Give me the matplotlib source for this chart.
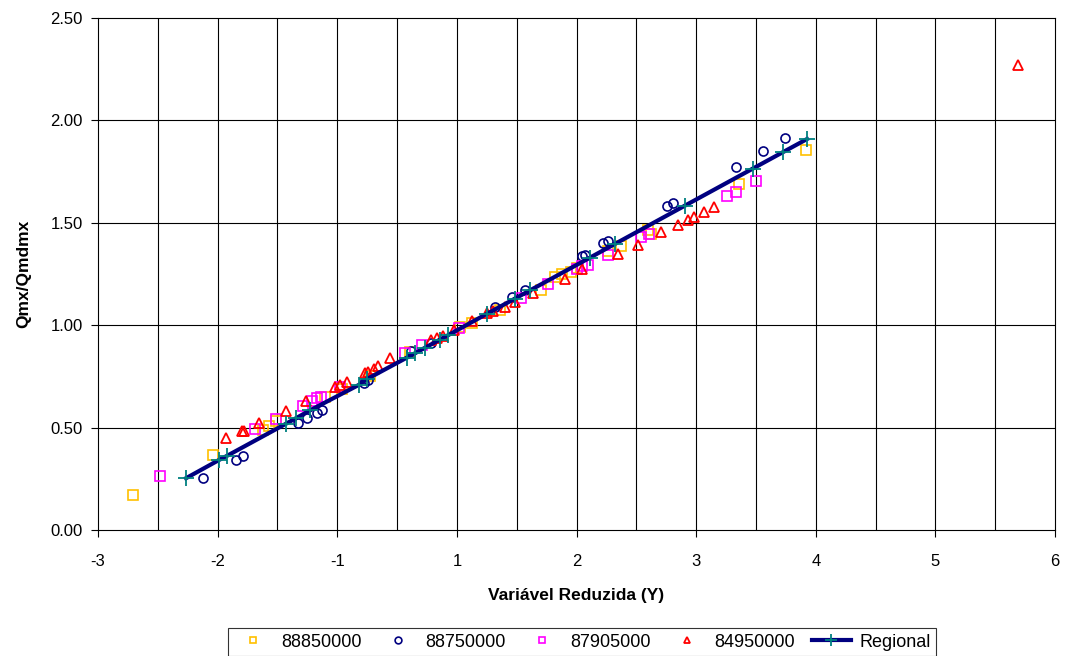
import matplotlib
matplotlib.use("Agg")
import matplotlib.pyplot as plt
import numpy as np

plt.rcParams['font.family'] = ['Liberation Sans', 'DejaVu Sans']

# ---------------- data ----------------
s88850_x = [-2.21, -1.54, -1.12, -1.07, -1.01, -0.60, -0.46, -0.23, 0.11, 0.53, 0.63, 0.86,
            1.20, 1.32, 1.38, 1.45, 1.50, 1.76, 1.87, 2.10, 2.12, 2.86, 3.42]
s88850_y = [0.17, 0.367, 0.489, 0.509, 0.533, 0.651, 0.690, 0.753, 0.871, 0.993, 1.013, 1.076,
            1.174, 1.233, 1.248, 1.262, 1.277, 1.360, 1.389, 1.467, 1.443, 1.688, 1.854]

s88750_x = [-1.62, -1.35, -1.29, -0.83, -0.75, -0.67, -0.63, -0.28, -0.24, 0.12, 0.28, 0.82,
            0.96, 1.07, 1.55, 1.57, 1.72, 1.76, 2.26, 2.31, 2.83, 3.06, 3.24]
s88750_y = [0.254, 0.342, 0.362, 0.523, 0.548, 0.572, 0.587, 0.719, 0.734, 0.876, 0.915, 1.091,
            1.140, 1.174, 1.336, 1.345, 1.399, 1.409, 1.580, 1.595, 1.771, 1.849, 1.913]

s87905_x = [-1.98, -1.19, -1.01, -0.79, -0.71, -0.67, -0.64, -0.48, 0.07, 0.21, 0.52, 1.04,
            1.26, 1.50, 1.55, 1.60, 1.76, 2.04, 2.11, 2.76, 2.83, 3.00]
s87905_y = [0.264, 0.494, 0.543, 0.607, 0.631, 0.646, 0.651, 0.700, 0.866, 0.905, 0.988, 1.135,
            1.199, 1.272, 1.287, 1.296, 1.345, 1.429, 1.443, 1.629, 1.649, 1.703]

s84950_x = [-1.43, -1.30, -1.28, -1.15, -0.93, -0.76, -0.52, -0.48, -0.42, -0.27, -0.24, -0.19,
            -0.16, -0.06, 0.28, 0.33, 0.38, 0.48, 0.63, 0.75, 0.80, 0.90, 0.99, 1.14, 1.40,
            1.55, 1.85, 2.01, 2.21, 2.35, 2.43, 2.48, 2.57, 2.65, 5.19]
s84950_y = [0.450, 0.484, 0.484, 0.523, 0.582, 0.631, 0.700, 0.709, 0.724, 0.768, 0.773, 0.788,
            0.802, 0.841, 0.930, 0.939, 0.949, 0.978, 1.022, 1.062, 1.067, 1.091, 1.111, 1.159, 1.228,
            1.272, 1.350, 1.394, 1.453, 1.487, 1.512, 1.526, 1.551, 1.575, 2.27]

regional_x = [-1.764, -1.488, -1.422, -0.928, -0.845, -0.728, -0.318, -0.251, 0.083, 0.150, 0.234,
              0.359, 0.426, 0.752, 0.986, 1.111, 1.613, 1.822, 2.407, 2.975, 3.226, 3.427]
regional_y = [0.253, 0.342, 0.362, 0.519, 0.546, 0.584, 0.709, 0.737, 0.842, 0.863, 0.890,
              0.930, 0.951, 1.056, 1.130, 1.170, 1.330, 1.397, 1.584, 1.765, 1.845, 1.909]

x_ticks = [-2.5, -1.5, -0.5, 0.5, 1.5, 2.5, 3.5, 4.5, 5.5]
x_tick_labels = ['-3', '-2', '-1', '1', '2', '3', '4', '5', '6']
y_ticks = [0.0, 0.5, 1.0, 1.5, 2.0, 2.5]

# ---------------- figure ----------------
fig = plt.figure(figsize=(10.66, 6.56), dpi=100)
ax = fig.add_axes([98/1066, 126/656, (1055-98)/1066, (530-18)/656])

ax.set_xlim(-2.5, 5.5)
ax.set_ylim(0, 2.5)

for gx in np.arange(-2.0, 5.5, 0.5):
    ax.axvline(gx, color='black', lw=0.8, zorder=0)
for gy in y_ticks[1:-1]:
    ax.axhline(gy, color='black', lw=0.8, zorder=0)

ms = 6.5
ax.plot(s88850_x, s88850_y, ls='none', marker='s', ms=ms, mfc='none', mec='#FFC000', mew=1.2,
        label='88850000', zorder=3)
ax.plot(s88750_x, s88750_y, ls='none', marker='o', ms=ms, mfc='none', mec='#000080', mew=1.2,
        label='88750000', zorder=3)
ax.plot(s87905_x, s87905_y, ls='none', marker='s', ms=ms, mfc='none', mec='#FF00FF', mew=1.2,
        label='87905000', zorder=3)
ax.plot(s84950_x, s84950_y, ls='none', marker='^', ms=ms, mfc='none', mec='#FF0000', mew=1.3,
        label='84950000', zorder=3)
ax.plot(regional_x, regional_y, color='#000080', lw=3, marker='+', ms=12, mec='#008080', mew=1.3,
        label='Regional', zorder=4)

ax.set_xticks(x_ticks)
ax.set_xticklabels(x_tick_labels)
ax.set_yticks(y_ticks)
ax.set_yticklabels([f'{v:.2f}' for v in y_ticks])
ax.tick_params(axis='x', direction='out', length=5, width=0.8, labelsize=12, pad=12)
ax.tick_params(axis='y', direction='out', length=5, width=0.8, labelsize=12, pad=6)
for sp in ax.spines.values():
    sp.set_linewidth(0.8)
    sp.set_color('black')

ax.set_xlabel('Variável Reduzida (Y)', fontsize=12.5, fontweight='bold', labelpad=14)
ax.set_ylabel('Qmx/Qmdmx', fontsize=12.5, fontweight='bold', labelpad=14)

leg = fig.legend(loc='upper center', bbox_to_anchor=(0.546, 0.056), ncol=5, frameon=True,
                 fancybox=False, edgecolor='black', fontsize=13, markerscale=0.75,
                 handlelength=2.2, columnspacing=0.9, handletextpad=0.45, borderpad=0.3)
leg.get_frame().set_linewidth(0.8)

fig.savefig('out.png', dpi=100)
